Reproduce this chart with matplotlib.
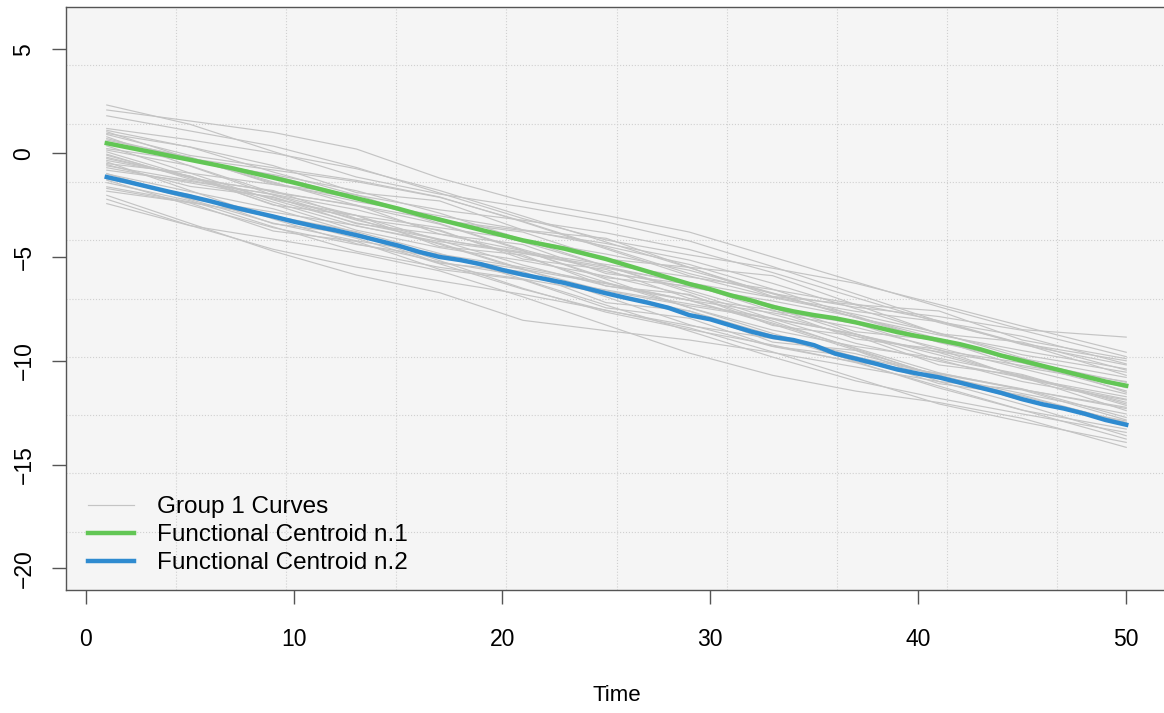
import matplotlib
matplotlib.use("Agg")
import matplotlib.pyplot as plt

plt.rcParams['font.family'] = ['Liberation Sans', 'DejaVu Sans']

# --- data ---
time = list(range(1, 51))
curve_time = [1, 5, 9, 13, 17, 21, 25, 29, 33, 37, 41, 45, 50]

group1_curves = [
    [2.32, 1.39, 0.08, -1.15, -1.97, -2.59, -3.31, -4.23, -5.46, -6.78, -8.10, -9.22, -10.2],
    [2.08, 1.55, 1.0, 0.2, -1.2, -2.3, -3.0, -3.8, -5.0, -6.2, -7.4, -8.5, -8.86],
    [1.80, 1.07, 0.34, -0.69, -1.92, -3.15, -4.18, -4.90, -5.54, -6.27, -7.29, -8.33, -9.59],
    [1.19, 0.64, 0.0, -0.75, -1.80, -3.03, -4.28, -5.52, -6.77, -7.92, -8.76, -9.51, -10.39],
    [1.03, -0.26, -1.44, -2.33, -3.02, -3.69, -4.48, -5.36, -6.55, -7.84, -9.12, -10.01, -11.04],
    [0.90, -0.11, -0.70, -1.31, -2.11, -3.31, -4.61, -5.91, -6.92, -7.62, -8.12, -8.82, -10.15],
    [0.79, -0.62, -2.02, -3.23, -4.14, -4.83, -5.54, -6.24, -6.95, -7.76, -8.66, -9.86, -11.52],
    [0.63, -0.19, -1.39, -2.51, -3.23, -3.73, -4.35, -5.15, -6.27, -7.49, -8.69, -9.71, -10.55],
    [0.45, -0.31, -1.07, -2.13, -3.39, -4.64, -5.71, -6.46, -7.12, -7.89, -8.94, -10.00, -11.30],
    [0.22, -0.36, -1.03, -1.81, -2.89, -4.16, -5.44, -6.70, -7.98, -9.16, -10.03, -10.81, -11.73],
    [0.06, -1.13, -2.21, -3.00, -3.59, -4.17, -4.86, -5.64, -6.73, -7.92, -9.10, -9.89, -10.80],
    [-0.10, -1.18, -1.85, -2.54, -3.42, -4.69, -6.07, -7.44, -8.52, -9.31, -9.88, -10.66, -12.08],
    [-0.26, -1.11, -2.36, -3.51, -4.26, -4.81, -5.46, -6.30, -7.45, -8.71, -9.95, -11.00, -11.89],
    [-0.42, -1.80, -3.17, -4.36, -5.24, -5.91, -6.59, -7.26, -7.94, -8.73, -9.60, -10.78, -12.40],
    [-0.61, -1.31, -2.00, -3.00, -4.20, -5.39, -6.39, -7.09, -7.69, -8.39, -9.38, -10.38, -11.60],
    [-0.82, -1.36, -1.98, -2.72, -3.75, -4.98, -6.22, -7.44, -8.68, -9.81, -10.64, -11.38, -12.24],
    [-0.98, -2.23, -3.37, -4.22, -4.87, -5.50, -6.25, -7.09, -8.24, -9.49, -10.73, -11.58, -12.56],
    [-1.15, -2.20, -2.84, -3.49, -4.34, -5.57, -6.92, -8.26, -9.31, -10.06, -10.60, -11.35, -12.73],
    [-1.42, -2.29, -3.55, -4.73, -5.50, -6.06, -6.74, -7.60, -8.77, -10.04, -11.31, -12.38, -13.29],
    [-1.62, -2.35, -3.07, -4.10, -5.33, -6.55, -7.58, -8.30, -8.93, -9.66, -10.68, -11.71, -12.97],
    [-1.83, -2.38, -3.02, -3.78, -4.83, -6.07, -7.32, -8.57, -9.82, -10.97, -11.81, -12.56, -13.45],
    [-2.03, -3.38, -4.72, -5.87, -6.72, -8.05, -8.55, -9.0, -9.6, -10.3, -11.0, -12.1, -13.61],
    [-2.22, -3.48, -4.63, -5.49, -6.15, -6.80, -7.56, -8.41, -9.57, -10.83, -12.08, -12.94, -13.93],
    [-2.43, -3.49, -4.14, -4.81, -5.67, -6.92, -8.28, -9.63, -10.70, -11.46, -12.01, -12.77, -14.17],
    [1.10, 0.29, -0.91, -2.02, -2.73, -3.23, -3.84, -4.64, -5.75, -6.96, -8.16, -9.17, -10.0],
    [0.35, -0.96, -2.25, -3.36, -4.16, -4.76, -5.36, -5.96, -6.57, -7.27, -8.07, -9.17, -10.7],
    [-0.50, -0.96, -1.51, -2.17, -3.13, -4.28, -5.45, -6.60, -7.76, -8.82, -9.57, -10.23, -11.0],
    [-0.70, -1.43, -2.14, -3.17, -4.39, -5.61, -6.64, -7.35, -7.98, -8.71, -9.72, -10.75, -12.0],
    [-1.30, -2.50, -3.59, -4.40, -5.00, -5.59, -6.29, -7.08, -8.18, -9.39, -10.58, -11.38, -12.3],
    [0.70, -0.26, -0.81, -1.37, -2.13, -3.28, -4.55, -5.80, -6.76, -7.42, -7.87, -8.53, -9.8],
    [-0.20, -1.14, -2.47, -3.71, -4.55, -5.18, -5.92, -6.85, -8.09, -9.43, -10.76, -11.91, -12.9],
    [-1.00, -1.85, -2.68, -3.83, -5.18, -6.51, -7.66, -8.49, -9.24, -10.09, -11.22, -12.37, -13.77],
    [0.15, -0.60, -1.90, -2.50, -3.90, -4.40, -5.80, -6.30, -7.60, -8.20, -9.50, -10.10, -11.45],
    [-0.35, -1.10, -2.50, -3.00, -4.50, -4.90, -6.40, -6.80, -8.30, -8.80, -10.20, -10.70, -12.15],
    [0.95, 0.30, -0.60, -1.90, -2.30, -3.70, -4.10, -5.50, -5.90, -7.30, -7.60, -9.00, -9.9],
    [-0.55, -1.60, -2.10, -3.40, -3.90, -4.70, -6.00, -6.40, -7.30, -8.60, -9.00, -10.30, -11.15],
    [-1.25, -2.00, -3.40, -3.90, -5.30, -5.70, -7.20, -7.60, -9.10, -9.50, -11.00, -11.40, -12.85],
    [0.50, -0.20, -1.50, -2.00, -3.30, -3.80, -5.10, -5.50, -6.90, -7.30, -8.70, -9.10, -10.45],
    [-0.05, -1.25, -1.80, -3.15, -3.70, -5.10, -5.60, -7.00, -7.55, -8.95, -9.45, -10.85, -11.85],
    [-1.70, -2.40, -3.75, -4.25, -5.60, -6.10, -7.45, -7.95, -9.30, -9.80, -11.10, -11.65, -13.0],
]

centroid1 = [0.48, 0.28, 0.08, -0.12, -0.32, -0.52, -0.72, -0.95, -1.18, -1.42,
             -1.67, -1.92, -2.17, -2.42, -2.67, -2.95, -3.20, -3.45, -3.70, -3.95,
             -4.20, -4.40, -4.60, -4.85, -5.10, -5.40, -5.70, -6.00, -6.30, -6.55,
             -6.85, -7.10, -7.40, -7.62, -7.80, -7.95, -8.15, -8.38, -8.62, -8.82,
             -9.00, -9.20, -9.45, -9.75, -10.00, -10.25, -10.50, -10.75, -11.00, -11.20]

centroid2 = [-1.15, -1.38, -1.62, -1.86, -2.08, -2.32, -2.58, -2.82, -3.05, -3.30,
             -3.52, -3.72, -3.95, -4.20, -4.45, -4.75, -5.00, -5.15, -5.35, -5.62,
             -5.85, -6.05, -6.25, -6.50, -6.75, -6.98, -7.20, -7.45, -7.80, -8.00,
             -8.30, -8.60, -8.85, -9.00, -9.25, -9.65, -9.90, -10.15, -10.42, -10.62,
             -10.80, -11.05, -11.30, -11.55, -11.85, -12.10, -12.30, -12.55, -12.85, -13.08]

labels = ["Group 1 Curves", "Functional Centroid n.1", "Functional Centroid n.2"]

# --- figure ---
fig = plt.figure(figsize=(11.64, 7.13), dpi=100)
ax = fig.add_axes([66 / 1164, 1 - 590 / 713, 1101 / 1164, 583 / 713])
ax.set_facecolor('#f5f5f5')

xlo, xhi = -0.96, 51.96
ylo, yhi = -21.04, 7.04
ax.set_xlim(xlo, xhi)
ax.set_ylim(ylo, yhi)

# R style grid(): 10 equal cells over the plot region
for k in range(1, 10):
    ax.axvline(xlo + (xhi - xlo) * k / 10, color='#d0d0d0', lw=0.8, ls=':', zorder=0)
    ax.axhline(ylo + (yhi - ylo) * k / 10, color='#d0d0d0', lw=0.8, ls=':', zorder=0)

for i, c in enumerate(group1_curves):
    ax.plot(curve_time, c, color='#c4c4c4', lw=0.85, zorder=1,
            label=labels[0] if i == 0 else None)
ax.plot(time, centroid1, color='#62c655', lw=3.2, zorder=3, label=labels[1])
ax.plot(time, centroid2, color='#2f8bd0', lw=3.2, zorder=3, label=labels[2])

ax.set_xticks([0, 10, 20, 30, 40, 50])
ax.set_yticks([5, 0, -5, -10, -15, -20])
ax.tick_params(axis='both', length=10, width=1, color='#555555', labelsize=16.5)
ax.tick_params(axis='x', pad=17)
ax.tick_params(axis='y', pad=12)
for lab in ax.get_yticklabels():
    lab.set_rotation(90)
    lab.set_va('center')
for s in ax.spines.values():
    s.set_color('#555555')
    s.set_linewidth(1)

ax.set_xlabel("Time", fontsize=16, labelpad=25)

leg = ax.legend(loc='lower left', bbox_to_anchor=(0.02, 0.027), frameon=False,
                fontsize=17.5, borderpad=0, borderaxespad=0, handlelength=1.9,
                handletextpad=0.95, labelspacing=0.25)

fig.savefig("out.png", dpi=100)
